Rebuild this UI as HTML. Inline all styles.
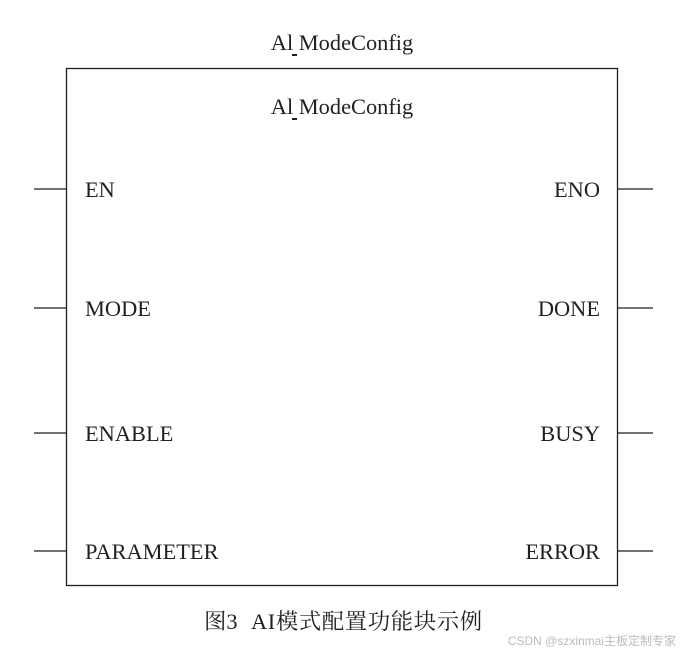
<!DOCTYPE html>
<html><head><meta charset="utf-8"><style>
html,body{margin:0;padding:0;background:#fff;}
svg{display:block}
text{font-family:"Liberation Serif","Noto Serif CJK SC",serif;fill:#231f20;}
</style></head><body>
<svg width="687" height="656" viewBox="0 0 687 656" xmlns="http://www.w3.org/2000/svg">
<g stroke="#231f20" stroke-width="1.3" fill="none">
<rect x="66.5" y="68.5" width="551" height="517"/>
<line x1="34" y1="189" x2="66" y2="189"/>
<line x1="34" y1="308" x2="66" y2="308"/>
<line x1="34" y1="433" x2="66" y2="433"/>
<line x1="34" y1="551" x2="66" y2="551"/>
<line x1="617" y1="189" x2="653" y2="189"/>
<line x1="617" y1="308" x2="653" y2="308"/>
<line x1="617" y1="433" x2="653" y2="433"/>
<line x1="617" y1="551" x2="653" y2="551"/>
</g>
<g font-size="22.4">
<text x="342" y="50" text-anchor="middle">Al ModeConfig</text>
<text x="342" y="114" text-anchor="middle">Al ModeConfig</text>
<text x="85" y="197">EN</text>
<text x="85" y="316">MODE</text>
<text x="85" y="441">ENABLE</text>
<text x="85" y="559">PARAMETER</text>
<text x="600" y="197" text-anchor="end">ENO</text>
<text x="600" y="316" text-anchor="end">DONE</text>
<text x="600" y="441" text-anchor="end">BUSY</text>
<text x="600" y="559" text-anchor="end">ERROR</text>
<text x="204" y="629">图3</text>
<text x="251" y="629" letter-spacing="0.6">AI模式配置功能块示例</text>
</g>
<rect x="292" y="54" width="5" height="2" fill="#231f20"/>
<rect x="292" y="118" width="5" height="2" fill="#231f20"/>
<text x="676" y="645" text-anchor="end" font-size="12" style="font-family:'Liberation Sans','Noto Sans CJK SC',sans-serif;fill:#bbb">CSDN @szxinmai主板定制专家</text>
</svg>
</body></html>
